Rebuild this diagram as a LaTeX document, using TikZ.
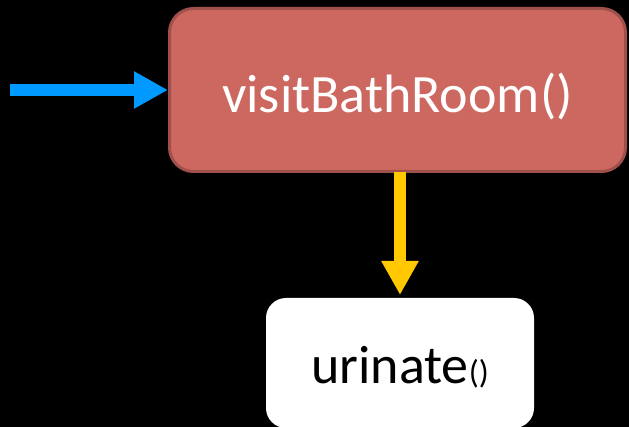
\documentclass[tikz,border=0pt]{standalone}
\usepackage{fontspec}
\setmainfont{Carlito}
\usetikzlibrary{arrows.meta}
\definecolor{boxred}{RGB}{205,104,97}
\definecolor{boxredline}{RGB}{160,80,74}
\definecolor{arrblue}{RGB}{0,153,255}
\definecolor{arryellow}{RGB}{255,200,0}
\tikzset{
  redbox/.style={draw=boxredline, fill=boxred, line width=3pt, rounded corners=24pt,
    minimum width=456pt, minimum height=163pt, inner sep=0pt, outer sep=0pt,
    text=white, font=\fontsize{54}{60}\selectfont, text height=50pt, text depth=4pt},
  whitebox/.style={fill=white, rounded corners=20pt, minimum width=268pt, minimum height=130pt,
    inner sep=0pt, outer sep=0pt, text=black, font=\fontsize{54}{60}\selectfont,
    text height=45pt, text depth=4pt},
  flow/.style={line width=12pt, -{Triangle[length=34pt,width=35pt]}},
}
\begin{document}
\begin{tikzpicture}[x=1pt,y=-1pt]
\fill[black] (0,0) rectangle (629,427);
\useasboundingbox (0,0) rectangle (629,427);
\node[redbox] (visit) at (397.5,90) {visitBathRoom()};
\node[whitebox] (urin) at (400,363) {urinate{\fontsize{33}{33}\selectfont ()}};
\coordinate (start) at (10,90);
\draw[flow, arrblue] (start) -- ([xshift=-1.5pt]visit.west);
\draw[flow, arryellow] ([yshift=-1pt]visit.south -| urin.north) -- ([yshift=3pt]urin.north);
\end{tikzpicture}
\end{document}
